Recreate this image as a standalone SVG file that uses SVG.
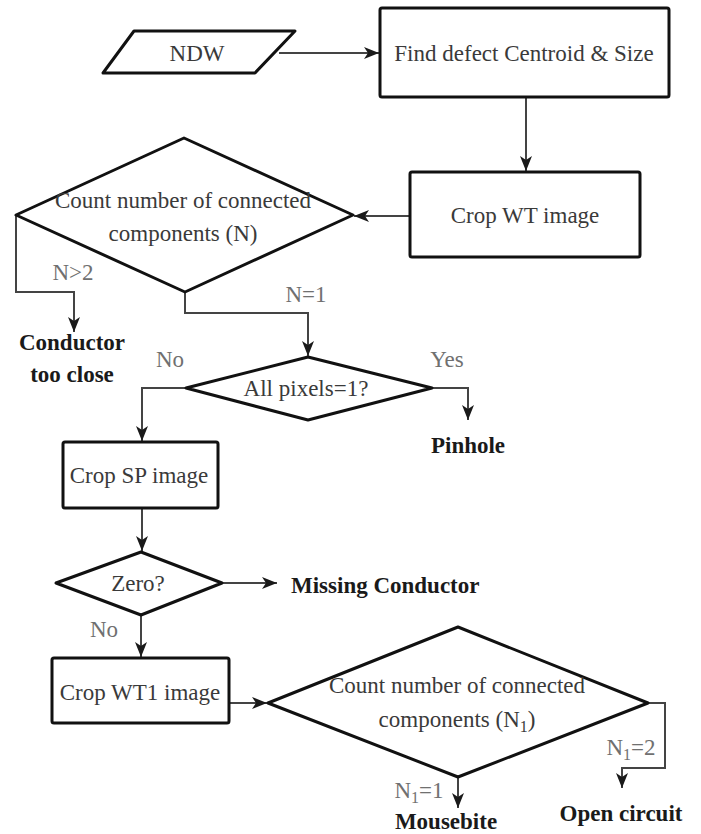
<svg xmlns="http://www.w3.org/2000/svg" width="701" height="834" viewBox="0 0 701 834">
<style>
.shape{fill:#fff;stroke:#111;stroke-width:3;stroke-linejoin:round}
.conn{fill:none;stroke:#444;stroke-width:2}
.t{font-family:"Liberation Serif","Times New Roman",serif;font-size:23px;fill:#3a3a3a;text-anchor:middle}
.lbl{font-family:"Liberation Serif","Times New Roman",serif;font-size:23px;fill:#707070;text-anchor:middle}
.b{font-family:"Liberation Serif","Times New Roman",serif;font-size:23px;font-weight:bold;fill:#1a1a1a;text-anchor:middle}
</style>
<defs>
<marker id="arr" markerUnits="userSpaceOnUse" markerWidth="16" markerHeight="14" refX="15" refY="7" orient="auto">
<path d="M0,1 L15,7 L0,13 L4,7 z" fill="#1a1a1a"/>
</marker>
</defs>
<rect width="701" height="834" fill="#fff"/>
<g id="connectors">
<path class="conn" d="M279,53 H379" marker-end="url(#arr)"/>
<path class="conn" d="M526,97 V171" marker-end="url(#arr)"/>
<path class="conn" d="M410,216 H354" marker-end="url(#arr)"/>
<path class="conn" d="M16,215 V292 H74 V332" marker-end="url(#arr)"/>
<path class="conn" d="M185,292 V313 H308 V356" marker-end="url(#arr)"/>
<path class="conn" d="M186,388 H142 V441" marker-end="url(#arr)"/>
<path class="conn" d="M432,388 H468 V420" marker-end="url(#arr)"/>
<path class="conn" d="M142,508 V551" marker-end="url(#arr)"/>
<path class="conn" d="M222,583 H277" marker-end="url(#arr)"/>
<path class="conn" d="M141,615 V657" marker-end="url(#arr)"/>
<path class="conn" d="M229,703 H267" marker-end="url(#arr)"/>
<path class="conn" d="M458,777 V808" marker-end="url(#arr)"/>
<path class="conn" d="M648,703 H665 V768 H622 V788" marker-end="url(#arr)"/>
</g>
<g id="ndw">
<path class="shape" d="M134,31 H295 L255,73 H103 Z"/>
<text class="t" x="197" y="61">NDW</text>
</g>
<g id="find">
<rect class="shape" x="380" y="8" width="289" height="89" rx="2"/>
<text class="t" x="524" y="61">Find defect Centroid &amp; Size</text>
</g>
<g id="cropwt">
<rect class="shape" x="410" y="172" width="230" height="85" rx="2"/>
<text class="t" x="525" y="223">Crop WT image</text>
</g>
<g id="count1">
<path class="shape" d="M16,215 L184,138 L353,215 L185,292 Z"/>
<text class="t" x="183" y="208">Count number of connected</text>
<text class="t" x="183" y="241">components (N)</text>
</g>
<g id="lbl-n2"><text class="lbl" x="73" y="280">N&gt;2</text></g>
<g id="conductor">
<text class="b" x="72" y="350">Conductor</text>
<text class="b" x="72" y="382">too close</text>
</g>
<g id="lbl-n1"><text class="lbl" x="306" y="302">N=1</text></g>
<g id="allpixels">
<path class="shape" d="M186,388 L308,357 L432,388 L308,420 Z"/>
<text class="t" x="306" y="396">All pixels=1?</text>
</g>
<g id="lbl-no1"><text class="lbl" x="170" y="367">No</text></g>
<g id="lbl-yes"><text class="lbl" x="447" y="367">Yes</text></g>
<g id="pinhole"><text class="b" x="468" y="453">Pinhole</text></g>
<g id="cropsp">
<rect class="shape" x="63" y="442" width="155" height="66" rx="2"/>
<text class="t" x="139" y="483">Crop SP image</text>
</g>
<g id="zero">
<path class="shape" d="M56,583 L141,552 L222,583 L141,615 Z"/>
<text class="t" x="138" y="591">Zero?</text>
</g>
<g id="missing"><text class="b" x="291" y="593" style="text-anchor:start">Missing Conductor</text></g>
<g id="lbl-no2"><text class="lbl" x="104" y="637">No</text></g>
<g id="cropwt1">
<rect class="shape" x="52" y="658" width="177" height="65" rx="2"/>
<text class="t" x="140" y="700">Crop WT1 image</text>
</g>
<g id="count2">
<path class="shape" d="M268,703 L458,627 L648,703 L458,777 Z"/>
<text class="t" x="457" y="693">Count number of connected</text>
<text class="t" x="457" y="727">components (N<tspan font-size="16" dy="5">1</tspan><tspan dy="-5">)</tspan></text>
</g>
<g id="lbl-n12"><text class="lbl" x="631" y="755">N<tspan font-size="16" dy="5">1</tspan><tspan dy="-5">=2</tspan></text></g>
<g id="lbl-n11"><text class="lbl" x="419" y="798">N<tspan font-size="16" dy="5">1</tspan><tspan dy="-5">=1</tspan></text></g>
<g id="mousebite"><text class="b" x="446" y="829">Mousebite</text></g>
<g id="open"><text class="b" x="621" y="821">Open circuit</text></g>
</svg>
